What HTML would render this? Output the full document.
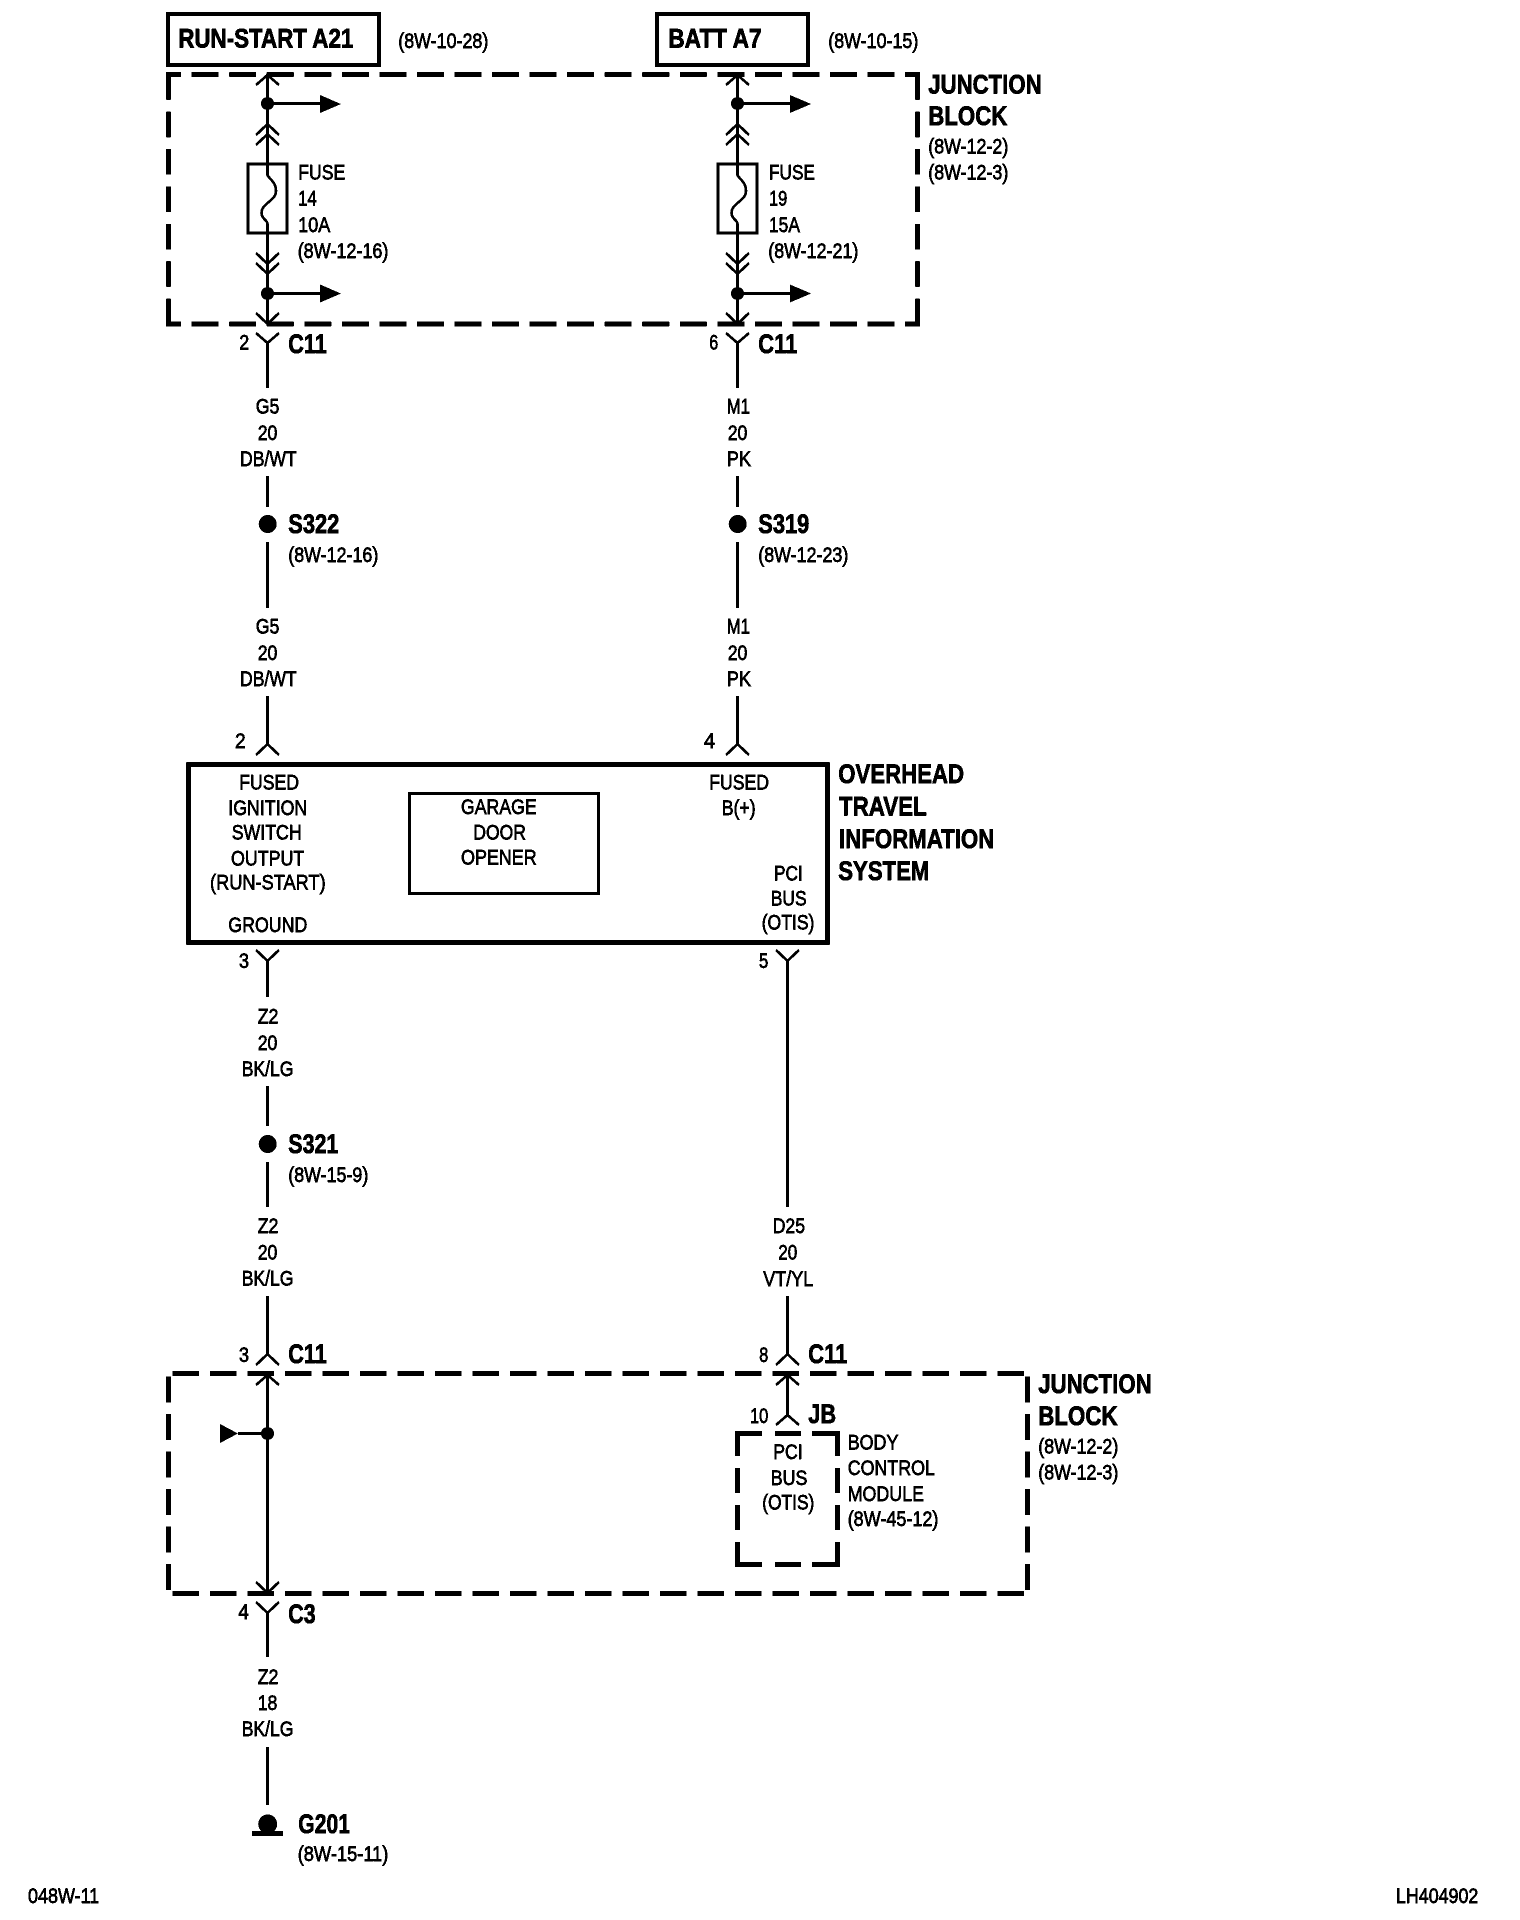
<!DOCTYPE html>
<html>
<head>
<meta charset="utf-8">
<title>Wiring diagram</title>
<style>
html,body{margin:0;padding:0;background:#fff}
svg{display:block}
text{font-family:"Liberation Sans",Arial,sans-serif;fill:#000}
.s{font-size:21px;stroke:#000;stroke-width:.75px;transform:translateY(-.5px)}
.b{font-size:27px;font-weight:bold;stroke:#000;stroke-width:.8px;transform:translateY(-1px)}
</style>
</head>
<body>
<svg xmlns="http://www.w3.org/2000/svg" width="1520" height="1920" viewBox="0 0 1520 1920">
<defs>
<filter id="bw" x="0" y="0" width="100%" height="100%" filterUnits="userSpaceOnUse" color-interpolation-filters="sRGB">
<feComponentTransfer><feFuncA type="discrete" tableValues="0 1"/></feComponentTransfer>
</filter>
</defs>
<rect width="1520" height="1920" fill="#fff"/>
<g filter="url(#bw)">

<!-- boxes -->
<g fill="none" stroke="#000">
<rect x="168" y="14" width="211" height="51" stroke-width="4"/>
<rect x="657" y="14" width="151" height="51" stroke-width="4"/>
<rect x="188.5" y="764.5" width="639" height="178" stroke-width="4.7"/>
<rect x="409.5" y="793.5" width="189" height="100" stroke-width="3"/>
<rect x="248" y="164" width="39" height="69" stroke-width="3"/>
<rect x="718" y="164" width="39" height="69" stroke-width="3"/>

<!-- dashed junction block 1 -->
<path d="M166 74.5H920" stroke-width="4.7" stroke-dasharray="27 10.55" stroke-dashoffset="11.9"/>
<path d="M166 324H920" stroke-width="4.7" stroke-dasharray="27 10.55" stroke-dashoffset="11.9"/>
<path d="M168.5 72V326" stroke-width="4.7" stroke-dasharray="25.5 11.9" stroke-dashoffset="-2.3"/>
<path d="M917.5 72V326" stroke-width="4.7" stroke-dasharray="25.5 11.9" stroke-dashoffset="-2.3"/>

<!-- dashed junction block 2 -->
<path d="M166 1373.5H1030" stroke-width="4.7" stroke-dasharray="26.5 11" stroke-dashoffset="31.1"/>
<path d="M166 1593.5H1030" stroke-width="4.7" stroke-dasharray="26.5 11" stroke-dashoffset="31.1"/>
<path d="M168.5 1371V1596" stroke-width="4.7" stroke-dasharray="26 11.5" stroke-dashoffset="32"/>
<path d="M1027.5 1371V1596" stroke-width="4.7" stroke-dasharray="26 11.5" stroke-dashoffset="32"/>

<!-- dashed BCM box -->
<path d="M735 1433.5H762M775 1433.5H801M812 1433.5H840M735 1564.5H762M775 1564.5H801M812 1564.5H840M737.5 1431V1456M737.5 1468V1493M737.5 1505V1530M737.5 1542V1567M837.5 1431V1456M837.5 1468V1493M837.5 1505V1530M837.5 1542V1567" stroke-width="4.7"/>

<!-- wires -->
<g stroke-width="2.6">
<path d="M267.5 74V175C270 180 276 182 276 191C276 201 261.5 203 261.5 213C261.5 219 267.5 220 267.5 224V324"/>
<path d="M737.5 74V175C740 180 746 182 746 191C746 201 731.5 203 731.5 213C731.5 219 737.5 220 737.5 224V324"/>
<path d="M267.5 343V388M267.5 476V507M267.5 542V608M267.5 696V744"/>
<path d="M737.5 343V388M737.5 476V507M737.5 542V608M737.5 696V744"/>
<path d="M267.5 961V997M267.5 1086V1126M267.5 1162V1207M267.5 1296V1354M267.5 1375V1593M267.5 1613V1657M267.5 1747V1805"/>
<path d="M787.5 961V1207M787.5 1296V1354M787.5 1375V1415"/>
<path d="M267.5 103.5H320M267.5 293.5H320M737.5 103.5H790M737.5 293.5H790M238 1433.5H267.5"/>
<!-- chevrons -->
<path d="M256 85L267.5 75L279 85M256 135L267.5 124L279 135M256 145L267.5 134L279 145M256 253L267.5 264L279 253M256 263L267.5 274L279 263M256 313L267.5 324L279 313M256 333L267.5 343L279 333"/>
<path d="M726 85L737.5 75L749 85M726 135L737.5 124L749 135M726 145L737.5 134L749 145M726 253L737.5 264L749 253M726 263L737.5 274L749 263M726 313L737.5 324L749 313M726 333L737.5 343L749 333"/>
<path d="M256 755L267.5 744L279 755M726 755L737.5 744L749 755M256 950L267.5 961L279 950M776 950L787.5 961L799 950"/>
<path d="M256 1365L267.5 1354L279 1365M256 1385L267.5 1375L279 1385M256 1582L267.5 1593L279 1582M256 1602L267.5 1613L279 1602"/>
<path d="M776 1365L787.5 1354L799 1365M776 1385L787.5 1375L799 1385M776 1425L787.5 1415L799 1425"/>
</g>
</g>

<!-- dots and arrowheads -->
<g fill="#000">
<circle cx="267.5" cy="103.5" r="6.5"/><circle cx="267.5" cy="293.5" r="6.5"/>
<circle cx="737.5" cy="103.5" r="6.5"/><circle cx="737.5" cy="293.5" r="6.5"/>
<circle cx="267.5" cy="1433.5" r="6.5"/>
<circle cx="267.7" cy="524" r="9"/><circle cx="737.7" cy="524" r="9"/><circle cx="267.7" cy="1144" r="9"/>
<path d="M320 95V113L341 104ZM320 284.5V302.5L341 293.5ZM790 95V113L811 104ZM790 284.5V302.5L811 293.5ZM220 1424V1443L238 1433.5Z"/>
<circle cx="267.7" cy="1824" r="9.5"/>
<rect x="252" y="1831" width="31" height="5"/>
</g>

<!-- bold labels -->
<text class="b" x="178.3" y="48.3" textLength="175" lengthAdjust="spacingAndGlyphs">RUN-START A21</text>
<text class="b" x="668.3" y="48.3" textLength="93.3" lengthAdjust="spacingAndGlyphs">BATT A7</text>
<text class="b" x="928.3" y="94.3" textLength="113.3" lengthAdjust="spacingAndGlyphs">JUNCTION</text>
<text class="b" x="928.3" y="126" textLength="79" lengthAdjust="spacingAndGlyphs">BLOCK</text>
<text class="b" x="288.3" y="354" textLength="38.5" lengthAdjust="spacingAndGlyphs">C11</text>
<text class="b" x="758.3" y="354" textLength="39" lengthAdjust="spacingAndGlyphs">C11</text>
<text class="b" x="288.3" y="534" textLength="51" lengthAdjust="spacingAndGlyphs">S322</text>
<text class="b" x="758.3" y="534" textLength="51" lengthAdjust="spacingAndGlyphs">S319</text>
<text class="b" x="838.3" y="784" textLength="125.7" lengthAdjust="spacingAndGlyphs">OVERHEAD</text>
<text class="b" x="839" y="816.7" textLength="87.7" lengthAdjust="spacingAndGlyphs">TRAVEL</text>
<text class="b" x="839" y="849" textLength="155.3" lengthAdjust="spacingAndGlyphs">INFORMATION</text>
<text class="b" x="838.3" y="881" textLength="91" lengthAdjust="spacingAndGlyphs">SYSTEM</text>
<text class="b" x="288.3" y="1154" textLength="50" lengthAdjust="spacingAndGlyphs">S321</text>
<text class="b" x="288.3" y="1364" textLength="38.5" lengthAdjust="spacingAndGlyphs">C11</text>
<text class="b" x="808.3" y="1364" textLength="39" lengthAdjust="spacingAndGlyphs">C11</text>
<text class="b" x="808.3" y="1424" textLength="27.7" lengthAdjust="spacingAndGlyphs">JB</text>
<text class="b" x="1038.3" y="1394" textLength="113.3" lengthAdjust="spacingAndGlyphs">JUNCTION</text>
<text class="b" x="1038.3" y="1426" textLength="79.3" lengthAdjust="spacingAndGlyphs">BLOCK</text>
<text class="b" x="288.3" y="1624" textLength="27.3" lengthAdjust="spacingAndGlyphs">C3</text>
<text class="b" x="298.3" y="1834" textLength="51.7" lengthAdjust="spacingAndGlyphs">G201</text>

<!-- regular labels -->
<text class="s" x="398.3" y="48.5" textLength="90" lengthAdjust="spacingAndGlyphs">(8W-10-28)</text>
<text class="s" x="828.3" y="48.5" textLength="90" lengthAdjust="spacingAndGlyphs">(8W-10-15)</text>
<text class="s" x="928.3" y="154" textLength="80" lengthAdjust="spacingAndGlyphs">(8W-12-2)</text>
<text class="s" x="928.3" y="180" textLength="80" lengthAdjust="spacingAndGlyphs">(8W-12-3)</text>
<text class="s" x="298.3" y="180" textLength="47" lengthAdjust="spacingAndGlyphs">FUSE</text>
<text class="s" x="298.3" y="206" textLength="18.4" lengthAdjust="spacingAndGlyphs">14</text>
<text class="s" x="298.3" y="232.7" textLength="32" lengthAdjust="spacingAndGlyphs">10A</text>
<text class="s" x="297.7" y="258.5" textLength="90.7" lengthAdjust="spacingAndGlyphs">(8W-12-16)</text>
<text class="s" x="769" y="180" textLength="46" lengthAdjust="spacingAndGlyphs">FUSE</text>
<text class="s" x="769" y="206" textLength="18.3" lengthAdjust="spacingAndGlyphs">19</text>
<text class="s" x="769" y="232.7" textLength="31" lengthAdjust="spacingAndGlyphs">15A</text>
<text class="s" x="768.3" y="258.5" textLength="90" lengthAdjust="spacingAndGlyphs">(8W-12-21)</text>
<text class="s" x="239.3" y="350" textLength="10" lengthAdjust="spacingAndGlyphs">2</text>
<text class="s" x="709.3" y="350" textLength="9" lengthAdjust="spacingAndGlyphs">6</text>

<text class="s" x="255.7" y="414" textLength="23.7" lengthAdjust="spacingAndGlyphs">G5</text>
<text class="s" x="257.7" y="440.7" textLength="19.7" lengthAdjust="spacingAndGlyphs">20</text>
<text class="s" x="240" y="466.7" textLength="56.7" lengthAdjust="spacingAndGlyphs">DB/WT</text>
<text class="s" x="288.3" y="562.3" textLength="90" lengthAdjust="spacingAndGlyphs">(8W-12-16)</text>
<text class="s" x="255.7" y="634" textLength="23.7" lengthAdjust="spacingAndGlyphs">G5</text>
<text class="s" x="257.7" y="660.7" textLength="19.7" lengthAdjust="spacingAndGlyphs">20</text>
<text class="s" x="240" y="686.7" textLength="56.7" lengthAdjust="spacingAndGlyphs">DB/WT</text>

<text class="s" x="726.7" y="414" textLength="23.3" lengthAdjust="spacingAndGlyphs">M1</text>
<text class="s" x="727.7" y="440.7" textLength="19.7" lengthAdjust="spacingAndGlyphs">20</text>
<text class="s" x="726.7" y="466.7" textLength="24.3" lengthAdjust="spacingAndGlyphs">PK</text>
<text class="s" x="758.3" y="562.3" textLength="90" lengthAdjust="spacingAndGlyphs">(8W-12-23)</text>
<text class="s" x="726.7" y="634" textLength="23.3" lengthAdjust="spacingAndGlyphs">M1</text>
<text class="s" x="727.7" y="660.7" textLength="19.7" lengthAdjust="spacingAndGlyphs">20</text>
<text class="s" x="726.7" y="686.7" textLength="24.3" lengthAdjust="spacingAndGlyphs">PK</text>

<text class="s" x="235" y="748.3" textLength="10.7" lengthAdjust="spacingAndGlyphs">2</text>
<text class="s" x="704" y="748.3" textLength="11" lengthAdjust="spacingAndGlyphs">4</text>
<text class="s" x="239.3" y="790" textLength="59.7" lengthAdjust="spacingAndGlyphs">FUSED</text>
<text class="s" x="228.3" y="815.7" textLength="79" lengthAdjust="spacingAndGlyphs">IGNITION</text>
<text class="s" x="231.7" y="840" textLength="70" lengthAdjust="spacingAndGlyphs">SWITCH</text>
<text class="s" x="231" y="866" textLength="73.3" lengthAdjust="spacingAndGlyphs">OUTPUT</text>
<text class="s" x="210" y="890" textLength="115.7" lengthAdjust="spacingAndGlyphs">(RUN-START)</text>
<text class="s" x="228.3" y="932.3" textLength="79" lengthAdjust="spacingAndGlyphs">GROUND</text>
<text class="s" x="461" y="814.3" textLength="75.7" lengthAdjust="spacingAndGlyphs">GARAGE</text>
<text class="s" x="473.3" y="840" textLength="52.7" lengthAdjust="spacingAndGlyphs">DOOR</text>
<text class="s" x="461" y="865" textLength="75.7" lengthAdjust="spacingAndGlyphs">OPENER</text>
<text class="s" x="709.3" y="790" textLength="59.7" lengthAdjust="spacingAndGlyphs">FUSED</text>
<text class="s" x="721.7" y="815.7" textLength="34" lengthAdjust="spacingAndGlyphs">B(+)</text>
<text class="s" x="774" y="881" textLength="28.7" lengthAdjust="spacingAndGlyphs">PCI</text>
<text class="s" x="770.7" y="906" textLength="36" lengthAdjust="spacingAndGlyphs">BUS</text>
<text class="s" x="761.7" y="930" textLength="52.7" lengthAdjust="spacingAndGlyphs">(OTIS)</text>
<text class="s" x="239" y="968.3" textLength="10" lengthAdjust="spacingAndGlyphs">3</text>
<text class="s" x="759" y="968.3" textLength="9.3" lengthAdjust="spacingAndGlyphs">5</text>

<text class="s" x="257.7" y="1024" textLength="20.7" lengthAdjust="spacingAndGlyphs">Z2</text>
<text class="s" x="257.7" y="1050.7" textLength="19.7" lengthAdjust="spacingAndGlyphs">20</text>
<text class="s" x="241.7" y="1076.7" textLength="51.7" lengthAdjust="spacingAndGlyphs">BK/LG</text>
<text class="s" x="288.3" y="1182.3" textLength="80" lengthAdjust="spacingAndGlyphs">(8W-15-9)</text>
<text class="s" x="257.7" y="1233.3" textLength="20.7" lengthAdjust="spacingAndGlyphs">Z2</text>
<text class="s" x="257.7" y="1260" textLength="19.7" lengthAdjust="spacingAndGlyphs">20</text>
<text class="s" x="241.7" y="1286" textLength="51.7" lengthAdjust="spacingAndGlyphs">BK/LG</text>

<text class="s" x="772.7" y="1233.3" textLength="32.3" lengthAdjust="spacingAndGlyphs">D25</text>
<text class="s" x="778.3" y="1260" textLength="19" lengthAdjust="spacingAndGlyphs">20</text>
<text class="s" x="763.3" y="1286.7" textLength="50" lengthAdjust="spacingAndGlyphs">VT/YL</text>

<text class="s" x="239" y="1362.3" textLength="10" lengthAdjust="spacingAndGlyphs">3</text>
<text class="s" x="759.3" y="1362.3" textLength="9" lengthAdjust="spacingAndGlyphs">8</text>
<text class="s" x="750" y="1423.3" textLength="18.3" lengthAdjust="spacingAndGlyphs">10</text>
<text class="s" x="773.3" y="1459.3" textLength="29.3" lengthAdjust="spacingAndGlyphs">PCI</text>
<text class="s" x="770.7" y="1485.7" textLength="36.7" lengthAdjust="spacingAndGlyphs">BUS</text>
<text class="s" x="762.3" y="1510" textLength="52" lengthAdjust="spacingAndGlyphs">(OTIS)</text>
<text class="s" x="847.7" y="1450" textLength="50.7" lengthAdjust="spacingAndGlyphs">BODY</text>
<text class="s" x="847.7" y="1475.7" textLength="87.3" lengthAdjust="spacingAndGlyphs">CONTROL</text>
<text class="s" x="847.7" y="1501.7" textLength="76.3" lengthAdjust="spacingAndGlyphs">MODULE</text>
<text class="s" x="847.7" y="1526.7" textLength="90.7" lengthAdjust="spacingAndGlyphs">(8W-45-12)</text>
<text class="s" x="1038.3" y="1454" textLength="80" lengthAdjust="spacingAndGlyphs">(8W-12-2)</text>
<text class="s" x="1038.3" y="1480" textLength="80" lengthAdjust="spacingAndGlyphs">(8W-12-3)</text>
<text class="s" x="238.3" y="1619.3" textLength="10.7" lengthAdjust="spacingAndGlyphs">4</text>

<text class="s" x="257.7" y="1684.5" textLength="20.7" lengthAdjust="spacingAndGlyphs">Z2</text>
<text class="s" x="257.7" y="1710.5" textLength="19.7" lengthAdjust="spacingAndGlyphs">18</text>
<text class="s" x="241.7" y="1736.5" textLength="51.7" lengthAdjust="spacingAndGlyphs">BK/LG</text>
<text class="s" x="297.7" y="1861.7" textLength="90.7" lengthAdjust="spacingAndGlyphs">(8W-15-11)</text>

<text class="s" x="28" y="1903.3" textLength="71.3" lengthAdjust="spacingAndGlyphs">048W-11</text>
<text class="s" x="1396" y="1903.3" textLength="82.3" lengthAdjust="spacingAndGlyphs">LH404902</text>
</g>
</svg>
</body>
</html>
